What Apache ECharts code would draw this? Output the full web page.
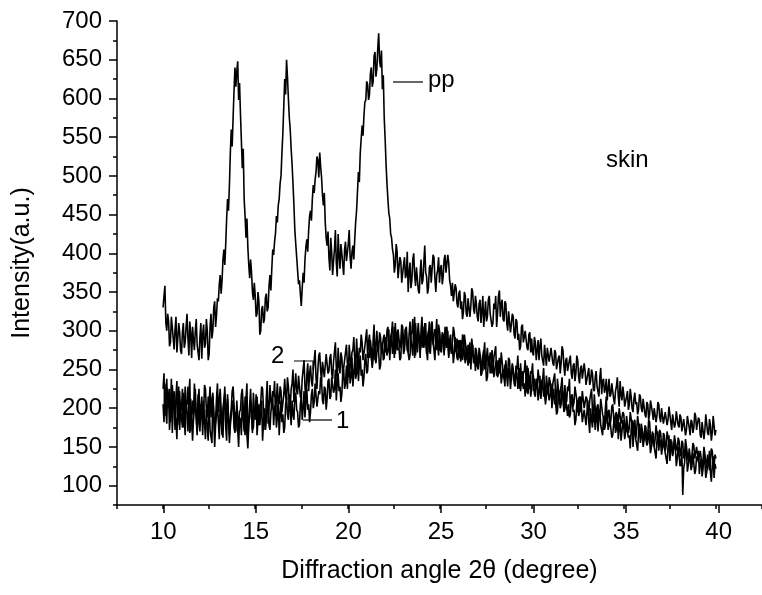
<!DOCTYPE html>
<html>
<head>
<meta charset="utf-8">
<title>XRD skin</title>
<script src="https://cdn.jsdelivr.net/npm/echarts@6/dist/echarts.min.js"></script>
<style>
  html, body { margin: 0; padding: 0; background: #fff; }
  #chart { width: 762px; height: 595px; }
</style>
</head>
<body>
<div id="chart"></div>
<script>
// sampling of the diffraction angle (degree)
var angleStart = 10;
var angleStep = 0.05;

// pp curve, one row per degree (10.00 .. 40.00)
var ppData = [
  330, 345, 358, 310, 300, 322, 312, 280, 285, 318, 305, 290, 276, 302, 318, 272, 290, 310, 298, 275,
  270, 298, 310, 278, 285, 305, 322, 290, 268, 312, 296, 265, 305, 288, 275, 300, 315, 282, 280, 262,
  292, 310, 264, 295, 308, 278, 283, 315, 300, 262, 270, 305, 322, 290, 300, 330, 338, 305, 320, 342,
  338, 360, 372, 348, 365, 392, 405, 385, 412, 445, 470, 455, 488, 530, 560, 538, 575, 610, 640, 615,
  635, 648, 598, 620, 580, 545, 510, 535, 470, 448, 420, 445, 408, 385, 368, 392, 375, 350, 340, 362,
  345, 318, 322, 350, 338, 295, 300, 328, 332, 310, 315, 342, 348, 325, 330, 358, 372, 352, 380, 405,
  398, 415, 425, 448, 440, 462, 470, 490, 500, 530, 555, 590, 625, 605, 650, 628, 600, 575, 560, 535,
  515, 490, 462, 430, 412, 395, 378, 360, 365, 348, 332, 355, 375, 362, 392, 408, 418, 402, 430, 448,
  455, 442, 470, 488, 478, 495, 505, 525, 520, 498, 530, 512, 498, 475, 462, 478, 440, 420, 410, 428,
  395, 378, 420, 402, 372, 390, 405, 430, 388, 370, 425, 398, 380, 412, 400, 385, 372, 405, 415, 390,
  392, 412, 430, 395, 380, 402, 410, 392, 418, 440, 455, 480, 505, 492, 530, 548, 565, 552, 578, 595,
  598, 622, 618, 598, 605, 632, 640, 615, 622, 655, 660, 628, 638, 665, 684, 648, 640, 662, 612, 630,
  575, 548, 515, 490, 470, 452, 445, 425, 420, 405, 398, 375, 385, 412, 402, 368, 370, 395, 390, 362,
  360, 385, 395, 368, 372, 402, 350, 375, 388, 355, 365, 392, 400, 372, 358, 382, 380, 352, 348, 375,
  392, 360, 365, 388, 410, 375, 370, 348, 355, 382, 385, 362, 362, 398, 395, 368, 350, 372, 378, 395,
  362, 380, 385, 360, 370, 392, 398, 375, 375, 398, 388, 365, 358, 345, 362, 338, 340, 360, 355, 335,
  330, 348, 352, 328, 338, 315, 325, 350, 345, 322, 318, 342, 340, 318, 332, 355, 350, 328, 322, 345,
  335, 318, 312, 335, 340, 310, 325, 345, 305, 322, 338, 312, 318, 340, 345, 322, 322, 305, 310, 335,
  328, 345, 305, 322, 345, 352, 318, 335, 340, 315, 312, 338, 335, 310, 300, 325, 325, 298, 308, 322,
  318, 295, 290, 315, 312, 288, 296, 275, 280, 305, 308, 285, 285, 300, 302, 278, 275, 295, 298, 272,
  290, 272, 268, 292, 285, 262, 275, 288, 262, 280, 290, 268, 270, 255, 282, 268, 255, 278, 278, 260,
  262, 278, 280, 258, 255, 275, 272, 250, 248, 265, 268, 245, 258, 280, 275, 255, 242, 262, 265, 248,
  250, 262, 268, 245, 238, 255, 258, 235, 245, 268, 262, 240, 232, 252, 255, 238, 240, 258, 248, 230,
  228, 245, 252, 230, 235, 250, 245, 225, 222, 240, 248, 228, 230, 215, 240, 252, 218, 235, 238, 220,
  225, 238, 210, 225, 238, 215, 218, 232, 230, 212, 205, 222, 228, 240, 215, 202, 235, 218, 210, 228,
  218, 202, 200, 215, 222, 198, 205, 225, 215, 200, 195, 212, 220, 205, 208, 192, 198, 218, 215, 200,
  195, 212, 210, 192, 188, 208, 205, 185, 192, 210, 212, 195, 185, 200, 200, 182, 190, 208, 205, 188,
  182, 200, 198, 180, 178, 195, 195, 178, 185, 202, 200, 182, 172, 192, 190, 175, 180, 196, 195, 178,
  175, 192, 188, 170, 168, 186, 185, 165, 172, 190, 192, 175, 165, 185, 182, 168, 175, 194, 190, 172,
  170, 188, 185, 165, 162, 182, 180, 160, 172, 192, 190, 168, 165, 186, 178, 158, 168, 190, 188, 165,
  172
];

// curve 1
var curve1Data = [
  205, 182, 232, 198, 180, 225, 215, 172, 195, 238, 168, 205, 222, 190, 185, 160, 210, 228, 172, 200,
  198, 175, 220, 185, 165, 210, 205, 228, 185, 168, 212, 190, 158, 185, 200, 225, 190, 170, 218, 182,
  170, 205, 195, 165, 210, 182, 160, 198, 188, 215, 205, 172, 172, 155, 215, 190, 150, 178, 192, 208,
  182, 160, 208, 185, 165, 200, 198, 220, 175, 158, 212, 188, 155, 178, 190, 210, 205, 175, 168, 195,
  195, 172, 150, 188, 185, 165, 210, 192, 170, 215, 198, 165, 148, 180, 188, 210, 205, 172, 175, 198,
  192, 218, 165, 185, 205, 178, 180, 210, 158, 182, 200, 172, 185, 205, 210, 178, 172, 195, 195, 215,
  178, 200, 205, 175, 188, 215, 165, 190, 210, 182, 192, 168, 175, 205, 215, 192, 185, 218, 200, 178,
  210, 192, 185, 215, 220, 198, 195, 175, 178, 205, 215, 185, 200, 222, 188, 210, 225, 198, 205, 182,
  195, 218, 225, 200, 208, 232, 230, 202, 200, 222, 218, 240, 235, 210, 205, 228, 225, 198, 212, 235,
  238, 212, 215, 240, 242, 220, 225, 250, 210, 232, 245, 222, 228, 208, 218, 245, 250, 225, 232, 255,
  225, 250, 258, 232, 240, 265, 228, 245, 262, 238, 245, 270, 235, 255, 268, 242, 250, 228, 240, 262,
  270, 245, 248, 272, 265, 288, 275, 252, 252, 278, 280, 258, 260, 285, 272, 250, 255, 280, 285, 262,
  265, 292, 290, 268, 275, 302, 262, 285, 295, 270, 280, 305, 270, 288, 300, 275, 278, 262, 265, 298,
  295, 270, 275, 302, 305, 280, 282, 262, 268, 295, 298, 315, 285, 265, 310, 288, 272, 300, 292, 275,
  280, 302, 305, 278, 288, 310, 270, 292, 300, 272, 285, 308, 312, 285, 275, 262, 295, 315, 282, 268,
  298, 275, 272, 295, 290, 268, 305, 285, 278, 300, 265, 288, 295, 272, 282, 258, 270, 292, 290, 265,
  262, 288, 285, 260, 270, 295, 292, 268, 258, 280, 278, 255, 265, 285, 250, 272, 282, 258, 268, 248,
  272, 255, 250, 270, 265, 242, 245, 268, 275, 250, 258, 235, 240, 262, 268, 245, 252, 275, 262, 240,
  238, 258, 262, 240, 245, 265, 255, 232, 232, 250, 250, 228, 262, 242, 228, 252, 248, 225, 240, 258,
  250, 232, 228, 250, 245, 225, 235, 252, 222, 240, 248, 225, 232, 215, 240, 255, 218, 235, 238, 215,
  225, 245, 240, 218, 215, 238, 232, 210, 220, 242, 212, 228, 238, 215, 222, 205, 205, 228, 228, 210,
  218, 232, 200, 215, 225, 205, 210, 192, 195, 218, 222, 200, 205, 225, 215, 195, 198, 212, 210, 190,
  205, 188, 192, 212, 215, 195, 198, 178, 185, 205, 208, 190, 195, 215, 202, 182, 180, 198, 200, 178,
  195, 210, 182, 168, 200, 185, 175, 195, 192, 172, 185, 200, 170, 188, 198, 178, 180, 165, 190, 172,
  178, 195, 192, 172, 170, 185, 185, 162, 165, 180, 188, 168, 175, 192, 160, 175, 182, 158, 170, 185,
  175, 160, 158, 178, 180, 162, 165, 148, 172, 185, 150, 168, 178, 160, 162, 145, 168, 180, 155, 170,
  165, 150, 148, 168, 170, 152, 155, 172, 160, 142, 140, 158, 168, 150, 152, 135, 158, 170, 145, 160,
  155, 140, 138, 158, 160, 142, 142, 128, 150, 165, 132, 148, 158, 138, 140, 155, 148, 125, 135, 150,
  140, 125, 128, 145, 88, 122, 130, 148, 145, 118, 118, 135, 138, 120, 125, 142, 140, 115, 120, 138,
  132, 145, 115, 128, 135, 112, 122, 140, 130, 110, 108, 125, 128, 145, 118, 105, 125, 138, 110, 128,
  122
];

// curve 2
var curve2Data = [
  225, 245, 190, 212, 238, 200, 205, 225, 182, 195, 230, 210, 198, 172, 215, 235, 178, 200, 222, 195,
  200, 225, 175, 195, 228, 205, 192, 170, 215, 238, 170, 188, 210, 192, 232, 208, 185, 165, 205, 225,
  178, 200, 215, 190, 195, 230, 225, 198, 172, 158, 208, 228, 188, 210, 220, 195, 168, 185, 212, 232,
  195, 210, 225, 198, 175, 162, 205, 228, 182, 200, 218, 190, 165, 185, 200, 222, 228, 205, 185, 170,
  210, 188, 172, 195, 198, 218, 225, 200, 180, 165, 212, 232, 160, 182, 205, 225, 190, 168, 220, 198,
  185, 205, 215, 190, 178, 200, 208, 228, 225, 198, 188, 172, 212, 235, 180, 200, 230, 210, 198, 222,
  215, 235, 190, 212, 232, 208, 205, 228, 222, 195, 195, 218, 238, 215, 210, 240, 228, 205, 200, 225,
  232, 250, 208, 228, 245, 222, 218, 242, 240, 215, 212, 238, 250, 262, 228, 208, 242, 258, 222, 245,
  255, 235, 228, 250, 262, 275, 238, 225, 250, 268, 272, 248, 235, 260, 258, 240, 242, 270, 268, 245,
  248, 265, 270, 245, 238, 260, 262, 285, 252, 235, 278, 255, 245, 272, 265, 242, 240, 262, 272, 282,
  258, 240, 282, 265, 250, 272, 275, 292, 262, 248, 290, 268, 255, 278, 272, 295, 285, 262, 260, 280,
  280, 302, 265, 285, 295, 272, 270, 255, 288, 308, 262, 280, 300, 278, 275, 298, 292, 270, 268, 290,
  295, 272, 278, 300, 305, 282, 270, 292, 298, 312, 282, 265, 310, 288, 275, 302, 300, 278, 285, 308,
  305, 285, 280, 302, 298, 275, 272, 295, 312, 290, 288, 268, 300, 318, 268, 290, 295, 310, 285, 265,
  302, 318, 278, 292, 310, 285, 285, 262, 295, 312, 270, 290, 305, 282, 282, 302, 298, 275, 288, 308,
  300, 282, 275, 298, 295, 272, 280, 302, 305, 285, 268, 290, 292, 270, 285, 305, 298, 278, 272, 290,
  290, 268, 265, 288, 285, 262, 272, 295, 295, 275, 262, 282, 280, 258, 270, 290, 288, 265, 258, 278,
  275, 258, 255, 278, 280, 262, 262, 248, 270, 285, 250, 265, 278, 255, 258, 272, 268, 245, 248, 265,
  265, 280, 242, 258, 262, 245, 250, 272, 270, 248, 238, 255, 258, 240, 245, 265, 262, 238, 235, 255,
  255, 240, 232, 255, 250, 268, 240, 225, 258, 238, 228, 245, 248, 262, 235, 220, 252, 240, 225, 248,
  245, 258, 222, 238, 240, 225, 228, 250, 248, 228, 215, 235, 238, 252, 225, 210, 242, 230, 218, 240,
  235, 220, 212, 232, 230, 245, 218, 200, 238, 225, 205, 222, 228, 240, 215, 198, 230, 215, 208, 228,
  222, 238, 200, 215, 218, 202, 208, 228, 228, 210, 195, 212, 215, 195, 205, 222, 220, 200, 198, 215,
  212, 195, 190, 210, 208, 225, 198, 182, 218, 200, 185, 202, 205, 188, 192, 212, 210, 192, 188, 175,
  200, 215, 180, 195, 198, 178, 185, 202, 205, 188, 175, 192, 195, 170, 182, 200, 200, 180, 178, 195,
  192, 175, 170, 190, 188, 168, 175, 195, 195, 178, 165, 182, 185, 162, 172, 190, 188, 170, 162, 180,
  180, 165, 158, 178, 175, 155, 165, 185, 182, 162, 152, 170, 172, 150, 160, 178, 178, 158, 155, 172,
  168, 152, 148, 168, 165, 145, 152, 170, 172, 155, 142, 160, 160, 140, 150, 165, 165, 148, 145, 162,
  158, 142, 138, 158, 155, 135, 142, 160, 160, 140, 132, 148, 150, 128, 140, 155, 152, 135, 135, 150,
  148, 130, 128, 145, 145, 125, 132, 150, 150, 132, 122, 140, 142, 120, 130, 148, 145, 128, 125, 140,
  135
];

var FONT = 'Liberation Sans';
var FONT_SIZE = 24;
var TITLE_SIZE = 25;
var W = 762, H = 595;
// plot area and axis ranges
var grid = { left: 117, right: -3, top: 21, bottom: 90 };
var xMin = 7.5, xMax = 42.5, yMin = 75, yMax = 700;
var xMajorMin = 10, xMajorMax = 40, yMajorMin = 100, yMajorMax = 700;
var pxPerX = (W - grid.left - grid.right) / (xMax - xMin);
var pxPerY = (H - grid.top - grid.bottom) / (yMax - yMin);
// second grid only carries the long (labelled) ticks
var gridMajor = {
  left: grid.left + (xMajorMin - xMin) * pxPerX,
  right: grid.right + (xMax - xMajorMax) * pxPerX,
  top: grid.top + (yMax - yMajorMax) * pxPerY,
  bottom: grid.bottom + (yMajorMin - yMin) * pxPerY
};

function toPairs(arr) {
  var out = [];
  for (var i = 0; i < arr.length; i++) {
    out.push([+(angleStart + i * angleStep).toFixed(2), arr[i]]);
  }
  return out;
}

function lineSeries(name, arr) {
  return {
    name: name,
    type: 'line',
    xAxisIndex: 0,
    yAxisIndex: 0,
    data: toPairs(arr),
    symbol: 'none',
    silent: true,
    lineStyle: { color: '#000', width: 1.6 }
  };
}

var axisLineStyle = { color: '#000', width: 1.5 };
var titleStyle = { fontFamily: FONT, fontSize: TITLE_SIZE, color: '#000' };
var font = FONT_SIZE + 'px "' + FONT + '"';

var chart = echarts.init(document.getElementById('chart'), null, { renderer: 'canvas' });

var option = {
  animation: false,
  backgroundColor: '#fff',
  grid: [
    { left: grid.left, right: grid.right, top: grid.top, bottom: grid.bottom },
    { left: gridMajor.left, right: gridMajor.right, top: gridMajor.top, bottom: gridMajor.bottom }
  ],
  xAxis: [
    {
      gridIndex: 0, type: 'value', min: xMin, max: xMax, interval: 2.5,
      axisLine: { onZero: false, lineStyle: axisLineStyle },
      axisTick: { length: 4, lineStyle: axisLineStyle },
      axisLabel: { show: false },
      splitLine: { show: false },
      name: 'Diffraction angle 2\u03b8 (degree)',
      nameLocation: 'middle',
      nameGap: 54,
      nameMoveOverlap: false,
      nameTextStyle: titleStyle
    },
    {
      gridIndex: 1, type: 'value', min: xMajorMin, max: xMajorMax, interval: 5,
      offset: gridMajor.bottom - grid.bottom,
      axisLine: { show: false },
      axisTick: { length: 8, lineStyle: axisLineStyle },
      axisLabel: { margin: 15, fontFamily: FONT, fontSize: FONT_SIZE, color: '#000' },
      splitLine: { show: false }
    }
  ],
  yAxis: [
    {
      gridIndex: 0, type: 'value', min: yMin, max: yMax, interval: 25,
      axisLine: { onZero: false, lineStyle: axisLineStyle },
      axisTick: { length: 4, lineStyle: axisLineStyle },
      axisLabel: { show: false },
      splitLine: { show: false },
      name: 'Intensity(a.u.)',
      nameLocation: 'middle',
      nameGap: 82,
      nameMoveOverlap: false,
      nameTextStyle: titleStyle
    },
    {
      gridIndex: 1, type: 'value', min: yMajorMin, max: yMajorMax, interval: 50,
      offset: gridMajor.left - grid.left,
      axisLine: { show: false },
      axisTick: { length: 8, lineStyle: axisLineStyle },
      axisLabel: { margin: 15, fontFamily: FONT, fontSize: FONT_SIZE, color: '#000' },
      splitLine: { show: false }
    }
  ],
  series: [
    lineSeries('pp', ppData),
    lineSeries('1', curve1Data),
    lineSeries('2', curve2Data)
  ],
  graphic: [
    { type: 'line', shape: { x1: 393, y1: 82, x2: 423, y2: 82 }, style: { stroke: '#000', lineWidth: 1.2 } },
    { type: 'text', style: { x: 428, y: 80, text: 'pp', font: font, fill: '#000', verticalAlign: 'middle' } },
    { type: 'text', style: { x: 606, y: 160, text: 'skin', font: font, fill: '#000', verticalAlign: 'middle' } },
    { type: 'polyline', shape: { points: [[294, 361], [313, 361], [313, 370]] }, style: { stroke: '#000', lineWidth: 1.2, fill: null } },
    { type: 'text', style: { x: 271, y: 356, text: '2', font: font, fill: '#000', verticalAlign: 'middle' } },
    { type: 'line', shape: { x1: 303, y1: 420, x2: 332, y2: 420 }, style: { stroke: '#000', lineWidth: 1.2 } },
    { type: 'text', style: { x: 336, y: 421, text: '1', font: font, fill: '#000', verticalAlign: 'middle' } }
  ]
};

chart.setOption(option);
</script>
</body>
</html>
